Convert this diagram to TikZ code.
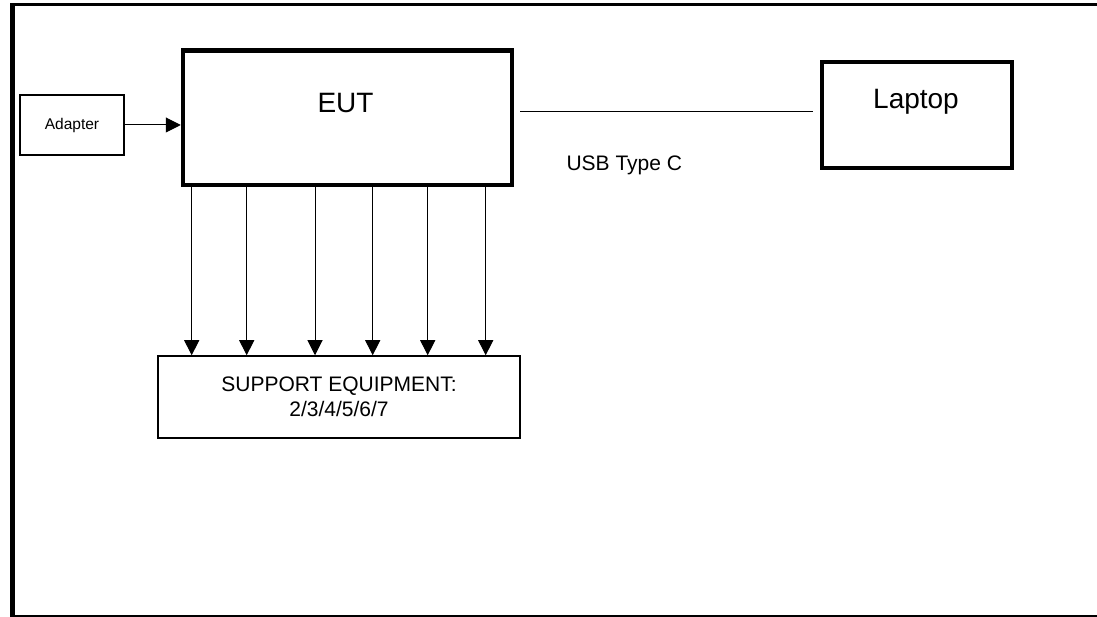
\documentclass[tikz,border=0pt]{standalone}
\usepackage{fontspec}
\setmainfont{Liberation Sans}
\usepackage{tikz}
\usetikzlibrary{arrows.meta, positioning, calc}

\begin{document}
\begin{tikzpicture}[x=1pt, y=-1pt,
	caja/.style={draw, line width=1.5pt, inner sep=0pt, anchor=center},
	gruesa/.style={draw, line width=4.5pt, inner sep=0pt, anchor=center},
	flecha/.style={line width=1pt, -{Triangle[length=15pt, width=15pt]}},
	grande/.style={font=\fontsize{28}{34}\selectfont},
	normal/.style={font=\fontsize{21}{25}\selectfont},
	chica/.style={font=\fontsize{15.5}{18}\selectfont}]
	\useasboundingbox (0,0) rectangle (1097,617);

	% marco exterior, abierto a la derecha
	\draw[line width=5pt] (12.5,3.5) -- (12.5,617);
	\draw[line width=3pt] (10,5) -- (1097,5);
	\draw[line width=2pt] (10,616) -- (1097,616);

	\node[gruesa, minimum width=329pt, minimum height=134.5pt] (EUT) at (347.5,117.75) {};
	\node[grande, anchor=base] (EUTtxt) at (345.5,113) {EUT};
	\node[gruesa, minimum width=190pt, minimum height=106pt] (Laptop) at (917,115) {};
	\node[grande, anchor=base] (Laptoptxt) at (916,109) {Laptop};
	\node[caja, chica, minimum width=104pt, minimum height=60pt] (Adapter) at (72,125) {Adapter};
	\node[caja, normal, minimum width=362pt, minimum height=82pt, align=center] (SE)
		at (339,397) {SUPPORT EQUIPMENT:\\2/3/4/5/6/7};

	\draw[flecha] (Adapter.east) -- (Adapter.east -| EUT.west);

	% cable USB, sin tocar las cajas
	\coordinate (usbline) at (0,112);
	\draw[line width=1pt, shorten <=6pt, shorten >=6.5pt]
		(EUT.east |- usbline) -- (Laptop.west |- usbline);
	\node[normal, anchor=base west] (usb) at (563,171) {USB Type C};

	\foreach \x [count=\i] in {191.7, 246.7, 315, 372.7, 427.7, 485.7}{
		\coordinate (p\i) at (\x,0);
		\draw[flecha] (EUT.south -| p\i) -- (SE.north -| p\i);
	}
\end{tikzpicture}
\end{document}
